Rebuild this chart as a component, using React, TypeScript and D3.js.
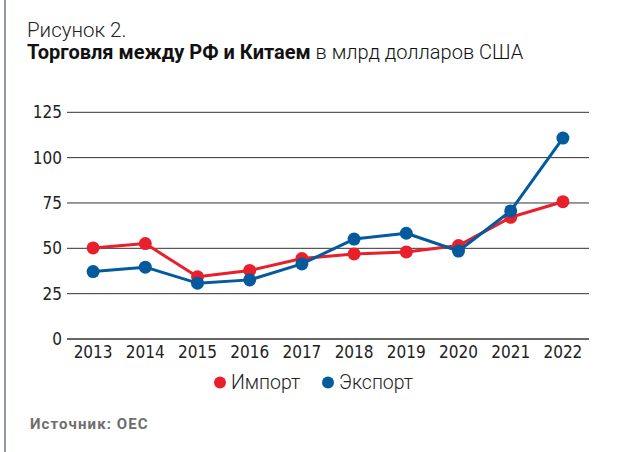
import React from "react";
import * as d3 from "d3";

const years = ["2013", "2014", "2015", "2016", "2017", "2018", "2019", "2020", "2021", "2022"];
const importVals = [50.2, 52.6, 34.3, 37.8, 44.4, 46.9, 48.0, 51.5, 67.1, 75.7];
const exportVals = [37.2, 39.6, 30.8, 32.6, 41.4, 55.1, 58.3, 48.5, 70.6, 110.8];
const yTicks = [0, 25, 50, 75, 100, 125];
const seriesNames = ["Импорт", "Экспорт"];
const seriesColors = ["#e8202c", "#035a9d"];

const W = 628;
const H = 452;
const left = 67;
const right = 589;
const top = 112.3;
const bottom = 339;

export default function App() {
  const x = d3.scaleBand<string>().domain(years).range([left, right]);
  const y = d3.scaleLinear().domain([0, 125]).range([bottom, top]);
  const cx = (yr: string) => (x(yr) as number) + x.bandwidth() / 2;
  const line = d3
    .line<number>()
    .x((_, i) => cx(years[i]))
    .y((d) => y(d));
  const series = [importVals, exportVals];
  const tickFont = "'Liberation Sans Narrow', 'DejaVu Sans Condensed', 'Roboto', sans-serif";
  return (
    <svg
      width={W}
      height={H}
      style={{ position: "absolute", left: 0, top: 0, background: "#fff" }}
    >
      <rect x={0} y={0} width={W} height={H} fill="#fff" />
      <line x1={5} x2={5} y1={0} y2={H} stroke="#8c9aa6" strokeWidth={2} />
      <text x={27} y={36.5} fontFamily="Roboto" fontWeight={300} fontSize={20.5} fill="#222">
        Рисунок 2.
      </text>
      <text x={27} y={58.5} fontFamily="Roboto" fontSize={20} fill="#111">
        <tspan fontWeight={700}>Торговля между РФ и Китаем</tspan>
        <tspan fontWeight={300}> в млрд долларов США</tspan>
      </text>
      {yTicks.map((t) => (
        <g key={t}>
          <line x1={left} x2={right} y1={y(t)} y2={y(t)} stroke="#333" strokeWidth={t === 0 ? 1.5 : 1} />
          <text
            x={62}
            y={y(t)}
            dy="0.35em"
            textAnchor="end"
            fontFamily={tickFont}
            fontSize={17}
            fill="#222"
          >
            {t}
          </text>
        </g>
      ))}
      {years.map((yr) => (
        <text
          key={yr}
          x={cx(yr)}
          y={358}
          textAnchor="middle"
          fontFamily={tickFont}
          fontSize={17}
          fill="#222"
        >
          {yr}
        </text>
      ))}
      {series.map((s, si) => (
        <g key={si}>
          <path d={line(s) || ""} fill="none" stroke={seriesColors[si]} strokeWidth={3} strokeLinejoin="round" />
          {s.map((v, i) => (
            <circle key={i} cx={cx(years[i])} cy={y(v)} r={6.5} fill={seriesColors[si]} />
          ))}
        </g>
      ))}
      <g>
        <circle cx={220} cy={382.5} r={6} fill={seriesColors[0]} />
        <text x={231} y={389} fontFamily="Roboto" fontWeight={300} fontSize={19.5} fill="#222">
          {seriesNames[0]}
        </text>
        <circle cx={328} cy={382.5} r={6} fill={seriesColors[1]} />
        <text x={339} y={389} fontFamily="Roboto" fontWeight={300} fontSize={19.5} fill="#222">
          {seriesNames[1]}
        </text>
      </g>
      <text x={30} y={428.5} fontFamily="Roboto" fontWeight={700} fontSize={15} fill="#6e6e6e" letterSpacing={1.1}>
        Источник: OEC
      </text>
    </svg>
  );
}
